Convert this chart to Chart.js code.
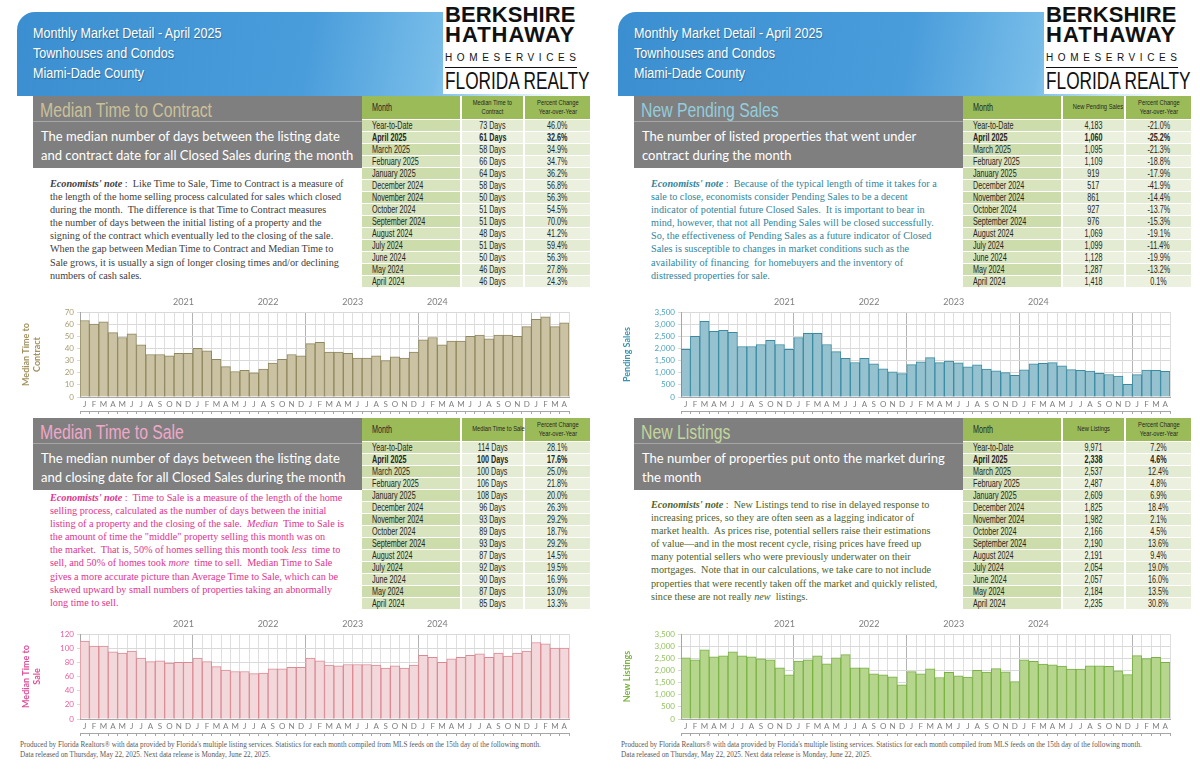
<!DOCTYPE html>
<html>
<head>
<meta charset="utf-8">
<script src="https://cdn.jsdelivr.net/npm/chart.js@4.4.1/dist/chart.umd.min.js"></script>
<style>
body{margin:0;width:1200px;height:776px;background:#fff;position:relative;overflow:hidden;font-family:Lato,sans-serif}
.page{position:absolute;top:0;width:600px;height:776px;overflow:hidden}
.page > div,.page > canvas,.logo > div,.box > div,.tbl > div{position:absolute}
.hdr{left:17px;top:12px;width:583px;height:84px;border-top-left-radius:18px;background:linear-gradient(100deg,#3b8fd0 0%,#4a9ddb 50%,#78bde9 72%,#cfeaf8 86%,#fff 95%)}
.hdrtext{left:33px;top:23px;color:#fff;font:15.5px/20px "Liberation Sans",sans-serif;text-shadow:1px 1px 1px rgba(0,0,0,.3);white-space:nowrap;transform:scaleX(0.81);transform-origin:left top}
.logo{left:443px;top:2px;width:157px;height:92px;background:#fff}
.logo .l1,.logo .l2{left:2px;font:bold 22px/20px "Liberation Sans",sans-serif;color:#111;white-space:nowrap}
.logo .l1{top:3px;letter-spacing:0.1px}
.logo .l2{top:23px;letter-spacing:1px}
.logo .l3{left:2px;top:50px;font:10px/12px "Liberation Sans",sans-serif;letter-spacing:4.6px;color:#111;white-space:nowrap}
.logo .rule{left:2px;top:65px;width:132px;height:1px;background:#111}
.logo .l4{left:2px;top:67px;font:23px/24px "Liberation Sans",sans-serif;color:#111;white-space:nowrap;transform:scaleX(0.75);transform-origin:left top}
.box{left:33px;width:329px;height:72px;background:#7f7f7f}
.box .t{left:7px;top:2px;font:20.5px/24px "Liberation Sans",sans-serif;white-space:nowrap;transform:scaleX(0.77);transform-origin:left top}
.box .rule{left:0;top:25px;width:329px;height:1px;background:#a6a6a6}
.box .d{left:8px;top:31px;color:#fff;font:13px/19px Lato,sans-serif;white-space:nowrap}
.tbl{left:362px;width:228px}
.tbl > div{white-space:nowrap;font:10px/11px "Liberation Sans",sans-serif;color:#262626;overflow:visible}
.tbl span{display:inline-block;transform:scaleX(0.72)}
.tbl .lc span{transform-origin:left center}
.tbl .cc{text-align:center}
.tbl .cc span{transform-origin:center center}
.note{left:50px;font:10.2px/13.1px "Liberation Serif",serif;white-space:nowrap}
.foot{left:20px;top:740px;font:7.2px/10px "Liberation Serif",serif;color:#595959;white-space:nowrap}
canvas{left:15px}
</style>
</head>
<body>
<div class="page" id="p1" style="left:0">
  <div class="hdr"></div>
  <div class="hdrtext">Monthly Market Detail - April 2025<br>Townhouses and Condos<br>Miami-Dade County</div>
  <div class="logo"><div class="l1">BERKSHIRE</div><div class="l2">HATHAWAY</div><div class="l3">HOMESERVICES</div><div class="rule"></div><div class="l4">FLORIDA REALTY</div></div>

  <div class="box" style="top:96px"><div class="t" style="color:#cbc199">Median Time to Contract</div><div class="rule"></div>
    <div class="d">The median number of days between the listing date<br>and contract date for all Closed Sales during the month</div></div>
  <div class="tbl" id="tbl1" style="top:96px"></div>
  <div class="note" style="top:177px;color:#404040"><b><i>Economists' note</i></b> :&nbsp; Like Time to Sale, Time to Contract is a measure of<br>the length of the home selling process calculated for sales which closed<br>during the month.&nbsp; The difference is that Time to Contract measures<br>the number of days between the initial listing of a property and the<br>signing of the contract which eventually led to the closing of the sale.<br>When the gap between Median Time to Contract and Median Time to<br>Sale grows, it is usually a sign of longer closing times and/or declining<br>numbers of cash sales.</div>
  <canvas id="c1" width="560" height="124" style="top:292px"></canvas>

  <div class="box" style="top:418px"><div class="t" style="color:#f2a7c8">Median Time to Sale</div><div class="rule"></div>
    <div class="d">The median number of days between the listing date<br>and closing date for all Closed Sales during the month</div></div>
  <div class="tbl" id="tbl3" style="top:418px"></div>
  <div class="note" style="top:491px;color:#e2338d"><b><i>Economists' note</i></b> :&nbsp; Time to Sale is a measure of the length of the home<br>selling process, calculated as the number of days between the initial<br>listing of a property and the closing of the sale.&nbsp; <i>Median</i>&nbsp; Time to Sale is<br>the amount of time the "middle" property selling this month was on<br>the market.&nbsp; That is, 50% of homes selling this month took <i>less</i>&nbsp; time to<br>sell, and 50% of homes took <i>more</i>&nbsp; time to sell.&nbsp; Median Time to Sale<br>gives a more accurate picture than Average Time to Sale, which can be<br>skewed upward by small numbers of properties taking an abnormally<br>long time to sell.</div>
  <canvas id="c3" width="560" height="124" style="top:614px"></canvas>
  <div class="foot">Produced by Florida Realtors® with data provided by Florida's multiple listing services. Statistics for each month compiled from MLS feeds on the 15th day of the following month.<br>Data released on Thursday, May 22, 2025. Next data release is Monday, June 22, 2025.</div>
</div>

<div class="page" id="p2" style="left:601px">
  <div class="hdr"></div>
  <div class="hdrtext">Monthly Market Detail - April 2025<br>Townhouses and Condos<br>Miami-Dade County</div>
  <div class="logo"><div class="l1">BERKSHIRE</div><div class="l2">HATHAWAY</div><div class="l3">HOMESERVICES</div><div class="rule"></div><div class="l4">FLORIDA REALTY</div></div>

  <div class="box" style="top:96px"><div class="t" style="color:#93cddd">New Pending Sales</div><div class="rule"></div>
    <div class="d">The number of listed properties that went under<br>contract during the month</div></div>
  <div class="tbl" id="tbl2" style="top:96px"></div>
  <div class="note" style="top:177px;color:#31859c"><b><i>Economists' note</i></b> :&nbsp; Because of the typical length of time it takes for a<br>sale to close, economists consider Pending Sales to be a decent<br>indicator of potential future Closed Sales.&nbsp; It is important to bear in<br>mind, however, that not all Pending Sales will be closed successfully.<br>So, the effectiveness of Pending Sales as a future indicator of Closed<br>Sales is susceptible to changes in market conditions such as the<br>availability of financing&nbsp; for homebuyers and the inventory of<br>distressed properties for sale.</div>
  <canvas id="c2" width="560" height="124" style="top:292px"></canvas>

  <div class="box" style="top:418px"><div class="t" style="color:#c3d69b">New Listings</div><div class="rule"></div>
    <div class="d">The number of properties put onto the market during<br>the month</div></div>
  <div class="tbl" id="tbl4" style="top:418px"></div>
  <div class="note" style="top:498px;color:#4f6228"><b><i>Economists' note</i></b> :&nbsp; New Listings tend to rise in delayed response to<br>increasing prices, so they are often seen as a lagging indicator of<br>market health.&nbsp; As prices rise, potential sellers raise their estimations<br>of value—and in the most recent cycle, rising prices have freed up<br>many potential sellers who were previously underwater on their<br>mortgages.&nbsp; Note that in our calculations, we take care to not include<br>properties that were recently taken off the market and quickly relisted,<br>since these are not really <i>new</i>&nbsp; listings.</div>
  <canvas id="c4" width="560" height="124" style="top:614px"></canvas>
  <div class="foot">Produced by Florida Realtors® with data provided by Florida's multiple listing services. Statistics for each month compiled from MLS feeds on the 15th day of the following month.<br>Data released on Thursday, May 22, 2025. Next data release is Monday, June 22, 2025.</div>
</div>

<script>
// monthly axis, Jan 2021 - Apr 2025
var months = ['J','F','M','A','M','J','J','A','S','O','N','D',
              'J','F','M','A','M','J','J','A','S','O','N','D',
              'J','F','M','A','M','J','J','A','S','O','N','D',
              'J','F','M','A','M','J','J','A','S','O','N','D',
              'J','F','M','A'];
var years = ['2021', '2022', '2023', '2024'];

var timeToContract = [63, 60, 62, 53, 49, 52, 43, 35, 35, 34, 36, 36,
                      40, 38, 31, 25, 21, 22, 20, 23, 28, 31, 35, 34,
                      44, 45, 37, 37, 36, 32, 32, 34, 30, 33, 32, 37,
                      47, 49, 43, 46, 46, 50, 51, 48, 51, 51, 50, 58,
                      64, 66, 58, 61];
var pendingSales = [1960, 2500, 3120, 2700, 2750, 2660, 2080, 2080, 2160, 2330, 2160, 1960,
                    2450, 2620, 2620, 2160, 1870, 1590, 1420, 1590, 1370, 1160, 1040, 960,
                    1330, 1450, 1620, 1417, 1483, 1408, 1240, 1321, 1152, 1074, 1006, 890,
                    1119, 1366, 1391, 1418, 1287, 1128, 1099, 1069, 976, 927, 861, 517,
                    919, 1109, 1095, 1060];
var timeToSale = [110, 103, 103, 95, 93, 96, 86, 81, 82, 79, 80, 80,
                  86, 81, 74, 69, 67, 67, 64, 65, 71, 71, 73, 73,
                  86, 82, 76, 75, 77, 77, 77, 76, 72, 75, 72, 76,
                  90, 87, 80, 85, 87, 90, 92, 87, 93, 89, 93, 96,
                  108, 106, 100, 100];
var newListings = [2520, 2440, 2850, 2560, 2600, 2770, 2600, 2560, 2480, 2440, 2110, 1820,
                   2390, 2440, 2600, 2270, 2520, 2650, 2110, 2110, 1860, 1820, 1740, 1410,
                   1950, 1860, 2070, 1709, 1924, 1773, 1726, 2003, 1928, 2073, 1941, 1541,
                   2441, 2373, 2257, 2235, 2184, 2057, 2054, 2191, 2190, 2166, 1982, 1825,
                   2609, 2487, 2537, 2338];

// table rows
var tableMonths = ['Year-to-Date', 'April 2025', 'March 2025', 'February 2025', 'January 2025',
                   'December 2024', 'November 2024', 'October 2024', 'September 2024',
                   'August 2024', 'July 2024', 'June 2024', 'May 2024', 'April 2024'];
var contractDays = ['73 Days', '61 Days', '58 Days', '66 Days', '64 Days', '58 Days', '50 Days',
                    '51 Days', '51 Days', '48 Days', '51 Days', '50 Days', '46 Days', '46 Days'];
var contractPct = ['46.0%', '32.6%', '34.9%', '34.7%', '36.2%', '56.8%', '56.3%',
                   '54.5%', '70.0%', '41.2%', '59.4%', '56.3%', '27.8%', '24.3%'];
var saleDays = ['114 Days', '100 Days', '100 Days', '106 Days', '108 Days', '96 Days', '93 Days',
                '89 Days', '93 Days', '87 Days', '92 Days', '90 Days', '87 Days', '85 Days'];
var salePct = ['28.1%', '17.6%', '25.0%', '21.8%', '20.0%', '26.3%', '29.2%',
               '18.7%', '29.2%', '14.5%', '19.5%', '16.9%', '13.0%', '13.3%'];
var pendingVals = ['4,183', '1,060', '1,095', '1,109', '919', '517', '861',
                   '927', '976', '1,069', '1,099', '1,128', '1,287', '1,418'];
var pendingPct = ['-21.0%', '-25.2%', '-21.3%', '-18.8%', '-17.9%', '-41.9%', '-14.4%',
                  '-13.7%', '-15.3%', '-19.1%', '-11.4%', '-19.9%', '-13.2%', '0.1%'];
var listingVals = ['9,971', '2,338', '2,537', '2,487', '2,609', '1,825', '1,982',
                   '2,166', '2,190', '2,191', '2,054', '2,057', '2,184', '2,235'];
var listingPct = ['7.2%', '4.6%', '12.4%', '4.8%', '6.9%', '18.4%', '2.1%',
                  '4.5%', '13.6%', '9.4%', '19.0%', '16.0%', '13.5%', '30.8%'];

function cell(cls, style, text) {
    return '<div class="' + cls + '" style="' + style + '"><span>' + text + '</span></div>';
}

function makeTable(id, head, vals, pcts) {
    var el = document.getElementById(id);
    var twoLine = head.indexOf('<br>') > 0;
    var h = '';
    h += cell('lc', 'left:0;top:0;width:98px;height:23px;background:#9bbb59;line-height:23px;padding-left:10px;box-sizing:border-box', 'Month');
    h += cell('cc', 'left:100px;top:0;width:61px;height:23px;background:#9bbb59;font-size:8px;line-height:8.5px;padding-top:' + (twoLine ? 3 : 7) + 'px;box-sizing:border-box', head);
    h += cell('cc', 'left:163px;top:0;width:65px;height:23px;background:#9bbb59;font-size:8px;line-height:8.5px;padding-top:3px;box-sizing:border-box', 'Percent Change<br>Year-over-Year');
    for (var i = 0; i < tableMonths.length; i++) {
        var top = 24 + i * 12;
        var bold = i === 1 ? 'font-weight:bold;' : '';
        var bgM = i % 2 ? '#d7e4bd' : '#cddcab';
        var bgV = i % 2 ? '#ebf1de' : '#e3ecd2';
        var base = 'top:' + top + 'px;height:11px;' + bold;
        h += cell('lc', base + 'left:0;width:98px;background:' + bgM + ';padding-left:10px;box-sizing:border-box', tableMonths[i]);
        h += cell('cc', base + 'left:100px;width:61px;background:' + bgV, vals[i]);
        h += cell('cc', base + 'left:163px;width:65px;background:' + bgV, pcts[i]);
    }
    el.innerHTML = h;
}

makeTable('tbl1', 'Median Time to<br>Contract', contractDays, contractPct);
makeTable('tbl3', 'Median Time to Sale', saleDays, salePct);
makeTable('tbl2', 'New Pending Sales', pendingVals, pendingPct);
makeTable('tbl4', 'New Listings', listingVals, listingPct);

var yearCenters = [5.5, 17.5, 29.5, 41.5];

function makeChart(id, values, o) {
    var ctx = document.getElementById(id).getContext('2d');
    return new Chart(ctx, {
        type: 'bar',
        data: {
            labels: months,
            datasets: [{
                data: values,
                backgroundColor: o.fill,
                borderColor: o.line,
                borderWidth: 1,
                barPercentage: 1,
                categoryPercentage: 1
            }]
        },
        options: {
            responsive: false,
            animation: false,
            layout: { padding: { right: 6 } },
            plugins: { legend: { display: false }, tooltip: { enabled: false } },
            scales: {
                x: {
                    offset: true,
                    grid: {
                        offset: true,
                        drawTicks: false,
                        color: function (c) { return c.index % 12 === 0 ? '#b3b3b3' : '#dedede'; }
                    },
                    border: { color: '#a6a6a6' },
                    ticks: { color: '#7f7f7f', font: { family: 'Lato', size: 8 }, maxRotation: 0, autoSkip: false, padding: 3 },
                    afterFit: function (s) { s.height = 14; }
                },
                xb: {
                    type: 'category',
                    position: 'bottom',
                    weight: 1,
                    labels: months,
                    offset: true,
                    grid: { offset: true, drawOnChartArea: false, tickLength: 3, color: '#a6a6a6' },
                    border: { display: true, color: '#a6a6a6' },
                    ticks: { display: false },
                    afterFit: function (s) { s.height = 5; }
                },
                yr: {
                    type: 'linear',
                    position: 'top',
                    min: -0.5,
                    max: 51.5,
                    grid: { display: false, drawTicks: false },
                    border: { display: false },
                    afterBuildTicks: function (s) { s.ticks = yearCenters.map(function (v) { return { value: v }; }); },
                    ticks: {
                        color: '#7f7f7f',
                        font: { family: 'Lato', size: 9 },
                        padding: 5,
                        callback: function (v) { return years[yearCenters.indexOf(v)]; }
                    },
                    afterFit: function (s) { s.height = 20; }
                },
                y: {
                    min: 0,
                    max: o.max,
                    ticks: { stepSize: o.step, autoSkip: false, color: o.tick, font: { family: 'Lato', size: 8 }, padding: 3 },
                    grid: { color: '#d9d9d9', tickLength: 3 },
                    border: { color: '#a6a6a6' },
                    title: { display: true, text: o.title, color: o.titleColor, font: { family: 'Lato', size: 9, weight: 'bold' }, padding: { top: 6, bottom: 0 } },
                    afterFit: function (s) { s.width = 65; }
                }
            }
        }
    });
}

makeChart('c1', timeToContract, { fill: '#cac2a3', line: '#8f875d', tick: '#a89e72', titleColor: '#a3925f', title: ['Median Time to', 'Contract'], max: 70, step: 10 });
makeChart('c2', pendingSales, { fill: '#96c2cf', line: '#3a8ba2', tick: '#4aa3bd', titleColor: '#3a94ad', title: 'Pending Sales', max: 3500, step: 500 });
makeChart('c3', timeToSale, { fill: '#f3d8db', line: '#db8a93', tick: '#e661a0', titleColor: '#e0509a', title: ['Median Time to', 'Sale'], max: 120, step: 20 });
makeChart('c4', newListings, { fill: '#b6d68e', line: '#79b243', tick: '#92c35c', titleColor: '#7db445', title: 'New Listings', max: 3500, step: 500 });
</script>
</body>
</html>
